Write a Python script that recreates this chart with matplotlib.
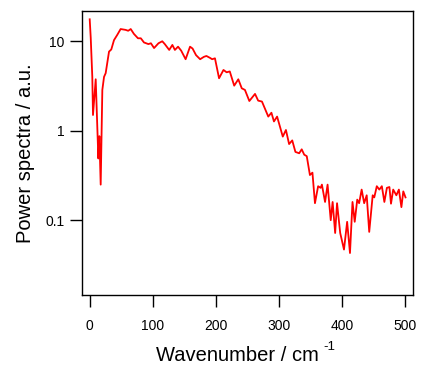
import numpy as np
from matplotlib import pyplot as plt

plt.rcParams['font.family'] = ['Liberation Sans', 'DejaVu Sans']

# spectrum
wavenumber = [0, 1.6, 4.1, 5.2, 9.5, 13.7, 15.3, 17.4, 20, 22.7, 25.3, 30.6, 34.2,
              38.5, 43.7, 49, 57, 61, 65, 70, 76.5, 81, 86, 93, 97, 102, 109,
              115, 119, 126, 131, 135, 140, 145, 152, 159, 163, 168.5, 175, 181,
              185, 191, 194, 198.5, 205, 212, 217, 222, 229, 235.5, 241, 246,
              253, 262, 267, 273, 283, 288, 292, 297, 306, 311, 316, 321, 326,
              332, 336, 340, 344, 349, 353, 357, 362, 366, 368, 373, 377, 382,
              385, 389, 392, 397, 403, 408, 412.5, 416.5, 420, 424, 427, 431,
              435, 439, 443, 448.5, 451, 455, 459, 463, 467, 471, 475, 477.5,
              481, 486, 490, 494, 497, 500.5]
power = [17.6, 11, 4.0, 1.5, 3.76, 0.49, 0.87, 0.25, 2.86, 4.0, 4.4, 7.66, 8.1,
         10.3, 11.8, 13.7, 13.4, 13.1, 13.7, 12.1, 10.8, 10.8, 9.7, 9.3, 9.5, 8.4, 9.5,
         10.0, 9.3, 8.0, 9.1, 8.0, 8.7, 7.85, 6.3, 8.7, 8.3, 7.0, 6.3, 6.7,
         6.85, 6.5, 6.3, 6.45, 3.86, 4.78, 4.5, 4.6, 3.19, 3.76, 2.98, 2.86,
         2.15, 2.58, 2.17, 2.12, 1.44, 1.59, 1.27, 1.44, 0.86, 1.02, 0.71, 0.78, 0.58,
         0.56, 0.62, 0.54, 0.52, 0.32, 0.34, 0.155, 0.24, 0.23, 0.25, 0.16, 0.25, 0.10,
         0.16, 0.072, 0.155, 0.072, 0.047, 0.096, 0.043, 0.16, 0.096, 0.17, 0.155, 0.22,
         0.155, 0.19, 0.074, 0.19, 0.18, 0.24, 0.22, 0.24, 0.16, 0.23, 0.235, 0.153,
         0.22, 0.19, 0.22, 0.14, 0.21, 0.18]

yticks = [0.1, 1, 10]
yticklabels = ['0.1', '1', '10']
xticks = [0, 100, 200, 300, 400, 500]

fig = plt.figure(figsize=(4.22, 3.65), dpi=100)
ax = fig.add_axes([0.1936, 0.1918, 0.9787 - 0.1936, 0.9699 - 0.1918])
ax.plot(wavenumber, power, color='#ff0000', linewidth=1.3)

ax.set_yscale('log')
ax.set_xlim(-12.7, 512.4)
ax.set_ylim(0.0146, 21.8)
ax.set_yticks(yticks)
ax.set_yticklabels(yticklabels)
ax.minorticks_off()
ax.set_xticks(xticks)
ax.tick_params(direction='out', length=8.6, width=1, labelsize=10, pad=4)
ax.tick_params(axis='x', pad=9)
for s in ax.spines.values():
    s.set_linewidth(1)

ax.set_xlabel('Wavenumber / cm', fontsize=14.5, labelpad=9)
ax.xaxis.label.set_x(0.47)
ax.annotate('-1', xy=(1, 0), xycoords=ax.xaxis.label, xytext=(3, 10.8),
            textcoords='offset points', fontsize=9.5, ha='left', va='baseline')
ax.set_ylabel('Power spectra / a.u.', fontsize=14.5, labelpad=7)

fig.savefig('out.png', dpi=100)
